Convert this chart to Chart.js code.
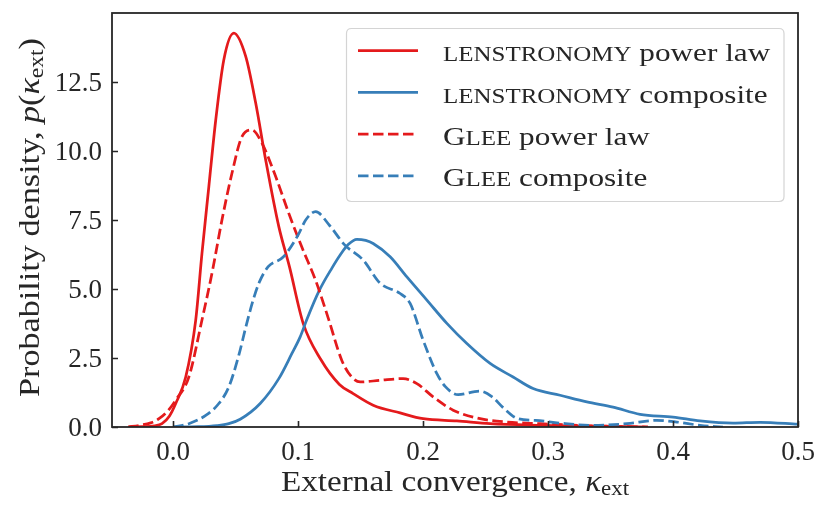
<!DOCTYPE html>
<html><head><meta charset="utf-8">
<script src="https://cdn.jsdelivr.net/npm/chart.js@4.4.1/dist/chart.umd.min.js"></script>
<style>html,body{margin:0;padding:0;background:#fff;overflow:hidden}#wrap{width:831px;height:510px}</style>
</head><body><div id="wrap"><canvas id="c" width="831" height="510"></canvas></div>
<script>
// ---- data ----
const xTicks = [0.0, 0.1, 0.2, 0.3, 0.4, 0.5];
const yTicks = [0.0, 2.5, 5.0, 7.5, 10.0, 12.5];
const seriesNames = ['lenstronomy power law', 'lenstronomy composite', 'Glee power law', 'Glee composite'];
const smallCapsWords = ['lenstronomy', 'Glee'];

const lensPowerX = [-0.036, -0.025, -0.015, -0.009, -0.003, 0.002, 0.010, 0.018, 0.023, 0.0285, 0.034, 0.0405, 0.0485, 0.058, 0.066, 0.074, 0.0845, 0.093, 0.104, 0.118, 0.133, 0.144, 0.160, 0.1816, 0.200, 0.227, 0.2536, 0.294, 0.33, 0.38];
const lensPowerY = [0.0, 0.01, 0.04, 0.12, 0.4, 0.85, 1.81, 3.87, 6.28, 8.70, 11.1, 13.29, 14.25, 13.41, 11.72, 9.66, 7.25, 5.8, 3.75, 2.45, 1.54, 1.21, 0.79, 0.51, 0.30, 0.22, 0.12, 0.06, 0.03, 0.0];

const lensCompX = [0.0, 0.02, 0.035, 0.0445, 0.0536, 0.0696, 0.0845, 0.095, 0.1016, 0.107, 0.117, 0.127, 0.134, 0.140, 0.147, 0.154, 0.160, 0.1736, 0.187, 0.203, 0.219, 0.235, 0.2536, 0.272, 0.288, 0.3096, 0.331, 0.352, 0.3736, 0.400, 0.4216, 0.448, 0.4696, 0.50];
const lensCompY = [0.0, 0.01, 0.05, 0.12, 0.28, 0.85, 1.75, 2.66, 3.26, 3.9, 4.95, 5.75, 6.25, 6.6, 6.79, 6.75, 6.64, 6.16, 5.43, 4.59, 3.75, 3.02, 2.30, 1.81, 1.39, 1.15, 0.91, 0.72, 0.46, 0.36, 0.22, 0.14, 0.17, 0.10];

const gleePowerX = [-0.036, -0.027, -0.018, -0.0114, -0.004, 0.002, 0.0125, 0.023, 0.031, 0.039, 0.047, 0.055, 0.063, 0.071, 0.082, 0.0925, 0.103, 0.114, 0.124, 0.135, 0.143, 0.1496, 0.1656, 0.184, 0.195, 0.208, 0.224, 0.2456, 0.267, 0.294, 0.33, 0.38];
const gleePowerY = [0.0, 0.06, 0.15, 0.30, 0.6, 0.97, 1.81, 3.87, 5.56, 7.49, 9.18, 10.51, 10.75, 10.27, 9.06, 7.73, 6.5, 5.3, 3.95, 2.4, 1.8, 1.63, 1.69, 1.75, 1.57, 1.09, 0.61, 0.30, 0.18, 0.12, 0.05, 0.0];

const gleeCompX = [0.0, 0.0125, 0.026, 0.0365, 0.0445, 0.0525, 0.058, 0.064, 0.069, 0.076, 0.088, 0.100, 0.106, 0.114, 0.125, 0.137, 0.152, 0.1656, 0.1816, 0.1896, 0.200, 0.211, 0.218, 0.228, 0.245, 0.255, 0.264, 0.276, 0.29, 0.3096, 0.336, 0.363, 0.387, 0.403, 0.4216, 0.44];
const gleeCompY = [0.0, 0.12, 0.42, 0.85, 1.45, 2.6, 3.6, 4.6, 5.25, 5.8, 6.15, 6.95, 7.49, 7.79, 7.3, 6.6, 6.04, 5.20, 4.83, 4.47, 3.14, 1.93, 1.45, 1.17, 1.3, 1.1, 0.7, 0.3, 0.24, 0.14, 0.06, 0.12, 0.24, 0.18, 0.06, 0.0];

// ---- styles ----
const RED = '#e41a1c', BLUE = '#377eb8';
const TXT = '#262626';
const SERIF = '"Liberation Serif", "DejaVu Serif", serif';

function pts(xs, ys) { return xs.map((x, i) => ({ x: x, y: ys[i] })); }

const seriesData = [
  { name: seriesNames[0], d: pts(lensPowerX, lensPowerY), c: RED, dash: [] },
  { name: seriesNames[1], d: pts(lensCompX, lensCompY), c: BLUE, dash: [] },
  { name: seriesNames[2], d: pts(gleePowerX, gleePowerY), c: RED, dash: [10.5, 4.5] },
  { name: seriesNames[3], d: pts(gleeCompX, gleeCompY), c: BLUE, dash: [10.5, 4.5] }
];

// rich text helper: parts = [{t, font, dy}]
function drawRich(ctx, parts, x, y, align, targetW) {
  let w = 0;
  const ws = parts.map(p => { ctx.font = p.font; const m = ctx.measureText(p.t).width; w += m; return m; });
  const s = targetW ? targetW / w : 1;
  ctx.save();
  ctx.translate(x, y);
  ctx.scale(s, 1);
  ctx.textBaseline = 'alphabetic';
  ctx.textAlign = 'left';
  let cx = align === 'center' ? -w / 2 : 0;
  parts.forEach((p, i) => { ctx.font = p.font; ctx.fillText(p.t, cx, p.dy || 0); cx += ws[i]; });
  ctx.restore();
}

function smallCapsParts(label, size) {
  const full = size + 'px ' + SERIF, small = (size * 0.8).toFixed(1) + 'px ' + SERIF;
  const parts = [];
  const push = (t, f) => { const l = parts[parts.length - 1]; if (l && l.font === f) l.t += t; else parts.push({ t: t, font: f }); };
  label.split(' ').forEach((word, wi) => {
    if (wi > 0) push(' ', full);
    if (smallCapsWords.includes(word)) {
      for (const ch of word) {
        if (ch >= 'a' && ch <= 'z') push(ch.toUpperCase(), small); else push(ch, full);
      }
    } else push(word, full);
  });
  return parts;
}

const overlay = {
  id: 'overlay',
  afterDatasetsDraw(chart) {
    const ctx = chart.ctx, a = chart.chartArea;
    const xs = chart.scales.x, ys = chart.scales.y;
    ctx.save();
    ctx.strokeStyle = TXT;
    ctx.lineWidth = 1.6;
    // inward ticks
    ctx.beginPath();
    xTicks.forEach(v => { const p = Math.round(xs.getPixelForValue(v)) + 0.5; ctx.moveTo(p, a.bottom); ctx.lineTo(p, a.bottom - 6); });
    yTicks.forEach(v => { const p = Math.round(ys.getPixelForValue(v)) + 0.5; ctx.moveTo(a.left, p); ctx.lineTo(a.left + 6, p); });
    ctx.stroke();
    // frame
    ctx.lineWidth = 1.8;
    ctx.strokeRect(a.left, a.top, a.right - a.left, a.bottom - a.top);
    ctx.restore();

    // legend
    ctx.save();
    const bx = 346.5, by = 28.5, bw = 437.5, bh = 173, r = 5;
    ctx.beginPath();
    ctx.moveTo(bx + r, by); ctx.lineTo(bx + bw - r, by); ctx.quadraticCurveTo(bx + bw, by, bx + bw, by + r);
    ctx.lineTo(bx + bw, by + bh - r); ctx.quadraticCurveTo(bx + bw, by + bh, bx + bw - r, by + bh);
    ctx.lineTo(bx + r, by + bh); ctx.quadraticCurveTo(bx, by + bh, bx, by + bh - r);
    ctx.lineTo(bx, by + r); ctx.quadraticCurveTo(bx, by, bx + r, by);
    ctx.closePath();
    ctx.fillStyle = 'rgba(255,255,255,0.85)';
    ctx.fill();
    ctx.strokeStyle = '#d4d4d4';
    ctx.lineWidth = 1.2;
    ctx.stroke();
    const legScale = 1.2;
    seriesData.forEach((s, i) => {
      const ly = 50.7 + i * 41.7;
      ctx.beginPath();
      ctx.strokeStyle = s.c; ctx.lineWidth = 2.75; ctx.setLineDash(s.dash);
      ctx.moveTo(358, ly); ctx.lineTo(418, ly); ctx.stroke();
      ctx.setLineDash([]);
      ctx.fillStyle = TXT;
      const parts = smallCapsParts(s.name, 26);
      let w = 0; parts.forEach(p => { ctx.font = p.font; w += ctx.measureText(p.t).width; });
      drawRich(ctx, parts, 443, ly + 10.5, 'left', w * legScale);
    });
    ctx.restore();

    // axis titles
    ctx.save();
    ctx.fillStyle = TXT;
    const F = 29, reg = F + 'px ' + SERIF, it = 'italic ' + F + 'px ' + SERIF, sub = '20px ' + SERIF;
    drawRich(ctx, [
      { t: 'External convergence, ', font: reg },
      { t: 'κ', font: it },
      { t: 'ext', font: sub, dy: 4 }
    ], (a.left + a.right) / 2, 490.5, 'center', 348);
    ctx.translate(38.5, 217.5);
    ctx.rotate(-Math.PI / 2);
    drawRich(ctx, [
      { t: 'Probability density, ', font: reg },
      { t: 'p', font: it },
      { t: '(', font: reg },
      { t: 'κ', font: it },
      { t: 'ext', font: sub, dy: 4 },
      { t: ')', font: reg }
    ], 0, 0, 'center', 359);
    ctx.restore();
  }
};

new Chart(document.getElementById('c'), {
  type: 'line',
  data: {
    datasets: seriesData.map((s, i) => ({
      label: s.name,
      data: s.d,
      borderColor: s.c,
      backgroundColor: s.c,
      borderWidth: 2.75,
      borderDash: s.dash,
      pointRadius: 0,
      fill: false,
      cubicInterpolationMode: 'monotone',
      order: seriesData.length - i
    }))
  },
  options: {
    responsive: false,
    animation: false,
    events: [],
    layout: { padding: { left: 0, right: 33, top: 13, bottom: 0 } },
    plugins: { legend: { display: false }, tooltip: { enabled: false } },
    scales: {
      x: {
        type: 'linear', min: -0.049, max: 0.5,
        grid: { display: false, drawTicks: false },
        border: { display: false },
        afterBuildTicks: sc => { sc.ticks = xTicks.map(v => ({ value: v })); },
        afterFit: sc => { sc.height = 83; sc.paddingLeft = 0; sc.paddingRight = 0; },
        ticks: { autoSkip: false, maxRotation: 0, padding: 10, color: TXT, font: { family: SERIF, size: 27 }, callback: v => Number(v).toFixed(1) }
      },
      y: {
        type: 'linear', min: 0, max: 14.98,
        grid: { display: false, drawTicks: false },
        border: { display: false },
        afterBuildTicks: sc => { sc.ticks = yTicks.map(v => ({ value: v })); },
        afterFit: sc => { sc.width = 112; sc.paddingTop = 0; sc.paddingBottom = 0; },
        ticks: { autoSkip: false, padding: 10, labelOffset: 2, color: TXT, font: { family: SERIF, size: 27 }, callback: v => Number(v).toFixed(1) }
      }
    }
  },
  plugins: [overlay]
});
</script>
</body></html>
